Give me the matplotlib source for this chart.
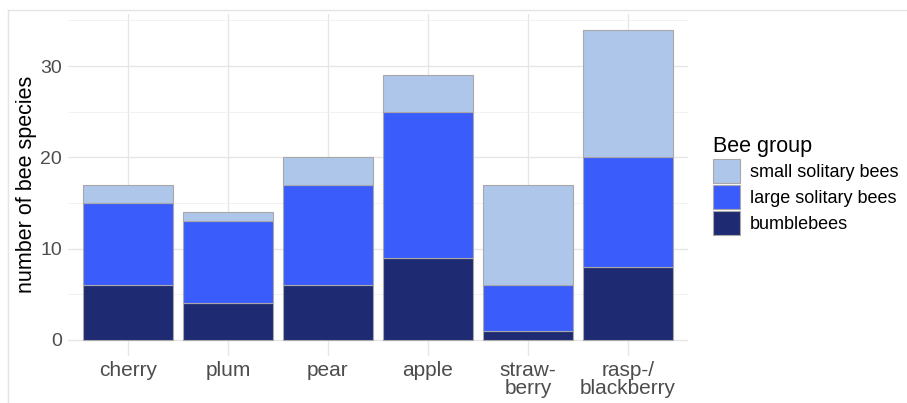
import matplotlib.pyplot as plt
from matplotlib.lines import Line2D
from matplotlib.ticker import MultipleLocator

plt.rcParams["font.family"] = ["Liberation Sans", "DejaVu Sans"]

# Data
fruits = ["cherry", "plum", "pear", "apple", "straw-\nberry", "rasp-/\nblackberry"]
bumblebees = [6, 4, 6, 9, 1, 8]
large_solitary = [9, 9, 11, 16, 5, 12]
small_solitary = [2, 1, 3, 4, 11, 14]

groups = ["bumblebees", "large solitary bees", "small solitary bees"]
colors = ["#1e2b72", "#3a5cfb", "#aec6ea"]
series = [bumblebees, large_solitary, small_solitary]

fig = plt.figure(figsize=(9.07, 4.03), dpi=100)
ax = fig.add_axes([68 / 907, 1 - 355.5 / 403, (688 - 68) / 907, (355.5 - 14) / 403])

x = list(range(len(fruits)))
bottom = [0] * len(fruits)
handles = []
for vals, col, name in zip(series, colors, groups):
    b = ax.bar(x, vals, width=0.9, bottom=bottom, color=col,
               edgecolor="#a8a8a8", linewidth=0.8, label=name, zorder=3)
    handles.append(b)
    bottom = [b0 + v for b0, v in zip(bottom, vals)]

# ggplot-like expansion
top = max(bottom)
ax.set_xlim(-0.6, len(fruits) - 0.4)
ax.set_ylim(-0.05 * top, top * 1.05)

ax.set_xticks(x)
ax.set_xticklabels(fruits, linespacing=0.95)
ax.yaxis.set_major_locator(MultipleLocator(10))
ax.yaxis.set_minor_locator(MultipleLocator(5))
ax.grid(True, which="major", color="#e6e6e6", linewidth=1.0, zorder=0)
ax.grid(True, which="minor", axis="y", color="#f0f0f0", linewidth=0.6, zorder=0)
ax.tick_params(which="both", length=0, labelcolor="#4d4d4d")
ax.tick_params(axis="x", pad=4, labelsize=15)
ax.tick_params(axis="y", pad=4.5, labelsize=14)
for s in ax.spines.values():
    s.set_visible(False)
ax.set_ylabel("number of bee species", fontsize=15.5)
ax.yaxis.set_label_coords(-0.05, 0.5)

leg = fig.legend(handles[::-1], groups[::-1], title="Bee group",
                 loc="upper left", bbox_to_anchor=(706 / 907, 1 - 129 / 403),
                 frameon=False, fontsize=13, title_fontsize=15.5,
                 handlelength=1.5, handleheight=1.72, labelspacing=0.08,
                 handletextpad=0.55, alignment="left", borderaxespad=0)

# faint screenshot frame
fig.add_artist(Line2D([8 / 907, 1], [1 - 10 / 403] * 2, color="#e4e4e4", lw=1))
fig.add_artist(Line2D([8 / 907] * 2, [0, 1 - 10 / 403], color="#e4e4e4", lw=1))

fig.savefig("out.png", dpi=100)
